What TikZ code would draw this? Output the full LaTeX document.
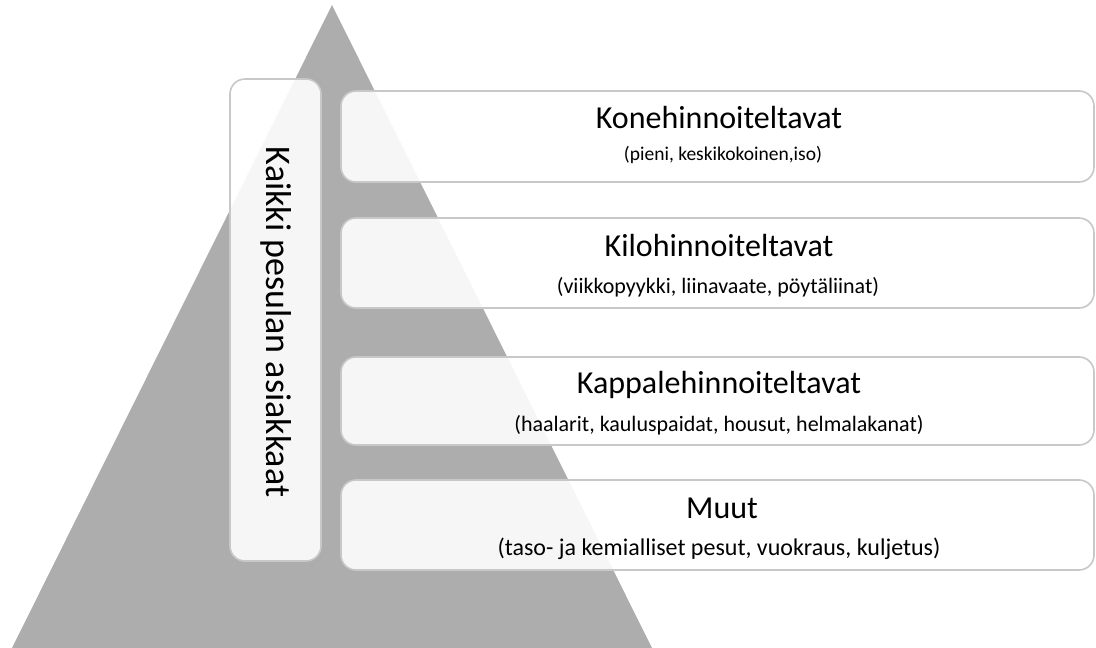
\documentclass[tikz,border=0pt]{standalone}
\usepackage{fontspec}
\setmainfont{Carlito}
\usepackage{tikz}
\usetikzlibrary{shapes}
\definecolor{pyramid}{RGB}{173,173,173}
\definecolor{edge}{RGB}{200,200,200}
\tikzstyle{box}=[draw=edge, line width=1.6pt, fill=white, fill opacity=0.9, rounded corners=15pt, inner sep=0pt]
\tikzstyle{title}=[font=\fontsize{32}{36}\selectfont, inner sep=0pt]
\tikzstyle{sub}=[font=\fontsize{22}{26}\selectfont, inner sep=0pt]

\begin{document}
\begin{tikzpicture}[x=1pt,y=-1pt]
\useasboundingbox (0,0) rectangle (1096,648);
\fill[pyramid] (332,5) -- (12,648) -- (652,648) -- cycle;
\node[box, minimum width=91pt, minimum height=482pt] (all) at (275.5,320) {};
\node[title, font=\fontsize{36}{40}\selectfont, rotate=-90] (allt) at (276,322) {Kaikki pesulan asiakkaat};
\node[box, minimum width=753pt, minimum height=91pt] (kone) at (717.5,136.5) {};
\node[box, minimum width=753pt, minimum height=90pt] (kilo) at (717.5,263) {};
\node[box, minimum width=753pt, minimum height=88pt] (kpl) at (717.5,401) {};
\node[box, minimum width=753pt, minimum height=90pt] (muut) at (717.5,525) {};
\node[title] (konet) at (719,118) {Konehinnoiteltavat};
\node[sub, font=\fontsize{19.5}{23}\selectfont] (kones) at (723,155) {(pieni, keskikokoinen,iso)};
\node[title] (kilot) at (719,246) {Kilohinnoiteltavat};
\node[sub] (kilos) at (718,287) {(viikkopyykki, liinavaate, pöytäliinat)};
\node[title] (kplt) at (719,385) {Kappalehinnoiteltavat};
\node[sub] (kpls) at (719,425) {(haalarit, kauluspaidat, housut, helmalakanat)};
\node[title] (muutt) at (722,508) {Muut};
\node[sub, font=\fontsize{24}{28}\selectfont] (muuts) at (719,549) {(taso- ja kemialliset pesut, vuokraus, kuljetus)};
\end{tikzpicture}
\end{document}
